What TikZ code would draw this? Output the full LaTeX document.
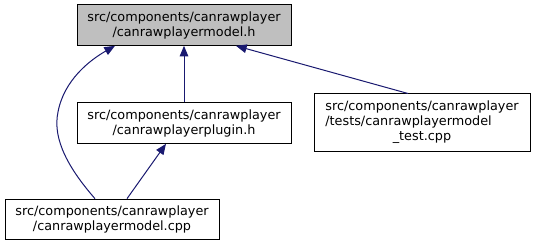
\documentclass[tikz,border=0pt]{standalone}
\usepackage{fontspec}
\setmainfont{DejaVu Sans}
\usetikzlibrary{arrows.meta,calc}
\definecolor{edgeblue}{RGB}{25,25,112}
\definecolor{curfill}{RGB}{191,191,191}
\begin{document}
\begin{tikzpicture}[x=0.75pt,y=-0.75pt,
  file/.style={draw=black,line width=0.75pt,fill=white,inner sep=0pt,
    minimum width=160.5pt,minimum height=30.5pt,align=center,
    font=\fontsize{9.6}{11.25}\selectfont},
  current/.style={file,fill=curfill},
  dep/.style={draw=edgeblue,line width=0.75pt,
    -{Triangle[length=8pt,width=6.5pt]}}]
  \fill[white] (0,0) rectangle (533,245);
  \useasboundingbox (0,0) rectangle (533,245);

  \node[current] (model) at (184,25) {src/components/canrawplayer\\/canrawplayermodel.h};
  \node[file] (plugin) at (184,123) {src/components/canrawplayer\\/canrawplayerplugin.h};
  \node[file,minimum width=162pt,minimum height=43.5pt] (test) at (422,123)
    {\begin{tabular}{@{}l@{}}src/components/canrawplayer\\/tests/canrawplayermodel\\\multicolumn{1}{@{}c@{}}{\_test.cpp}\end{tabular}};
  \node[file] (cpp) at (112,219.5) {src/components/canrawplayer\\/canrawplayermodel.cpp};

  \draw[dep] (plugin.north) -- (model.south);
  \draw[dep] ($(test.north)+(-14,0)$) -- ($(model.south)+(52,0)$);
  \draw[dep] ($(cpp.north)+(15,0)$) -- ($(plugin.south)+(-18,0)$);
  \draw[dep] ($(cpp.north)+(-17,0)$) .. controls (70,170) and (52,140) .. (58,112)
    .. controls (64,80) and (90,60) .. ($(model.south)+(-69,0)$);
\end{tikzpicture}
\end{document}
